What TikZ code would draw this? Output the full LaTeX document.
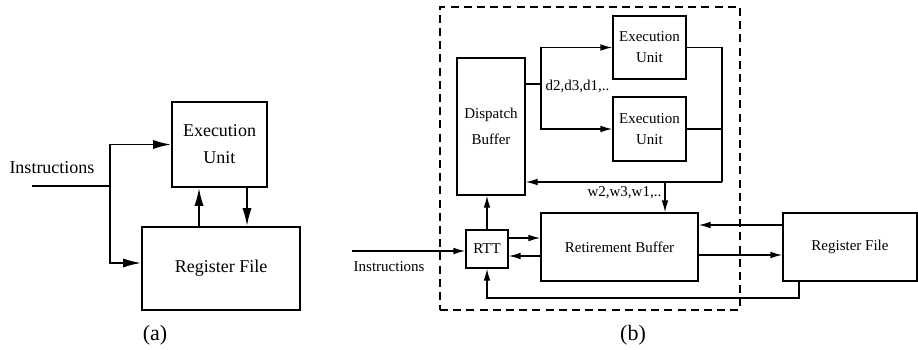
\documentclass[tikz,border=0pt]{standalone}
\usepackage{fontspec}
\setmainfont{Liberation Serif}
\usetikzlibrary{arrows.meta,calc}
\tikzset{>/.tip={Latex[length=6pt,width=3.4pt]}}
\tikzset{blk/.style={draw,inner sep=0pt,align=center}}
\tikzset{lbl/.style={inner sep=1pt}}

\begin{document}
\begin{tikzpicture}[x=0.5pt,y=-0.5pt]
        \useasboundingbox (0,0) rectangle (918,349);
        % (a)
        \begin{scope}[line width=0.9pt,font=\fontsize{9}{13.5}\selectfont,>={Latex[length=9pt,width=4.6pt]}]
        \node(eua)[blk,minimum width=47.5pt,minimum height=42.5pt] at (219.5,144.5){Execution\\Unit};
        \node(rfa)[blk,minimum width=79pt,minimum height=41.5pt] at (221,268.5){Register File};
        \node(insa)[lbl] at (52,168){Instructions};
        \coordinate(ina) at (32,186);
        \coordinate(splita) at (110,186);
        \draw (ina) -- (splita);
        \draw[->] (splita) |- (eua.west);
        \draw[->] (splita) |- ($(rfa.west)+(0,-5.5)$);
        \draw[->] (rfa.north -| 199,0) -- (eua.south -| 199,0);
        \draw[->] (eua.south -| 247,0) -- (rfa.north -| 247,0);
        \node(capa)[font=\fontsize{11}{13}\selectfont] at (155,335){(a)};
        \end{scope}
        % (b)
        \begin{scope}[line width=0.7pt,font=\fontsize{7.5}{10.5}\selectfont]
        \node(core)[draw,dashed,dash pattern=on 4pt off 2.6pt,minimum width=150pt,minimum height=151.5pt] at (590,158.5){};
        \node(disp)[blk,minimum width=34pt,minimum height=68.5pt] at (491,126.5){Dispatch\\[2.5pt]Buffer};
        \node(exu1)[blk,minimum width=36.5pt,minimum height=31.5pt] at (649.5,47.5){Execution\\Unit};
        \node(exu2)[blk,minimum width=36.5pt,minimum height=32pt] at (649.5,129){Execution\\Unit};
        \node(retb)[blk,minimum width=78.5pt,minimum height=34pt] at (619.5,247){Retirement Buffer};
        \node(rtt)[blk,minimum width=21pt,minimum height=19pt] at (487,249){RTT};
        \node(rfb)[blk,minimum width=67pt,minimum height=34pt] at (850,247){Register File};
        \coordinate(dsplit) at (541,84);
        \coordinate(wcorner) at (722,182);
        \coordinate(wtap) at (665,182);
        \coordinate(inb) at (352,251);
        \coordinate(fb) at (799,298);
        \draw (disp.east |- dsplit) -- (dsplit);
        \draw[->] (dsplit) |- (exu1.west);
        \draw[->] (dsplit) |- (exu2.west);
        \node(dlab)[lbl,anchor=west] at ($(dsplit)+(2,2)$){d2,d3,d1,..};
        \draw (exu1.east) -| (wcorner);
        \draw (exu2.east) -- (exu2.east -| wcorner);
        \draw[->] (wcorner) -- (disp.east |- wcorner);
        \draw[->] (wtap) -- (retb.north -| wtap);
        \node(wlab)[lbl,anchor=north east] at ($(wtap)+(-1,2)$){w2,w3,w1,..};
        \draw[->] (rtt.north) -- (rtt.north |- disp.south);
        \draw[->] (rtt.east |- 0,238) -- (retb.west |- 0,238);
        \draw[->] (retb.west |- 0,256) -- (rtt.east |- 0,256);
        \draw[->] (inb) -- (rtt.west |- inb);
        \node(insb)[lbl,anchor=north west] at ($(inb)+(-1,8)$){Instructions};
        \draw[->] (rfb.west |- 0,225) -- (retb.east |- 0,225);
        \draw[->] (retb.east |- 0,255) -- (rfb.west |- 0,255);
        \draw[->] (rfb.south -| fb) -- (fb) -| (rtt.south);
        \node(capb)[font=\fontsize{11}{13}\selectfont] at (633,335){(b)};
        \end{scope}
      \end{tikzpicture}
\end{document}
